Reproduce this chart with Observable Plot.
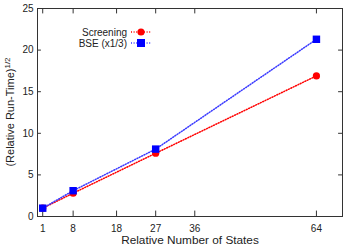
<!DOCTYPE html>
<html><head><meta charset="utf-8">
<script src="https://cdn.jsdelivr.net/npm/d3@7"></script>
<script src="https://cdn.jsdelivr.net/npm/@observablehq/plot@0.6"></script>
<style>body{margin:0;background:#fff;font-family:"Liberation Sans",Arial,sans-serif}</style>
</head><body><div id="chart"></div>
<script>
const states = [1, 8, 27, 64];
const screening = [1.0, 2.8, 7.6, 16.9];
const bse = [1.0, 3.1, 8.1, 21.3];
const xTicks = [1, 8, 18, 27, 36, 64];
const yTicks = [0, 5, 10, 15, 20, 25];
const seriesNames = ["Screening", "BSE (x1/3)"];

const scr = states.map((s, i) => ({x: s, y: screening[i]}));
const bs = states.map((s, i) => ({x: s, y: bse[i]}));
const xd = [-0.2, 70], yd = [0, 25];
const tx = 0.9, ty = 0.65;
const dash = "1,1.6";

const plot = Plot.plot({
  width: 354, height: 248,
  marginLeft: 37, marginRight: 12, marginTop: 8, marginBottom: 32,
  style: {fontFamily: "Liberation Sans, Arial, sans-serif", fontSize: "10px", color: "#222"},
  x: {domain: xd, ticks: xTicks, tickSize: 0, tickPadding: 8, label: null},
  y: {domain: yd, ticks: yTicks, tickSize: 0, tickPadding: 4, label: null},
  marks: [
    Plot.ruleX(xTicks, {y1: yd[0], y2: yd[0] + ty, stroke: "#333"}),
    Plot.ruleX(xTicks, {y1: yd[1], y2: yd[1] - ty, stroke: "#333"}),
    Plot.ruleY(yTicks, {x1: xd[0], x2: xd[0] + tx, stroke: "#333"}),
    Plot.ruleY(yTicks, {x1: xd[1], x2: xd[1] - tx, stroke: "#333"}),
    Plot.line(scr, {x: "x", y: "y", stroke: "#ff0000", strokeWidth: 1.5, strokeDasharray: dash}),
    Plot.line(bs, {x: "x", y: "y", stroke: "#3a3aff", strokeWidth: 1.5, strokeDasharray: dash}),
    Plot.dot(scr, {x: "x", y: "y", r: 3.6, fill: "#ff0000", stroke: "none"}),
    Plot.dot(bs, {x: "x", y: "y", r: 4.2, symbol: "square", fill: "#0000ff", stroke: "none"}),
    Plot.frame({stroke: "#333"})
  ]
});
document.getElementById("chart").append(plot);

const svg = d3.select(plot);
const lab = svg.append("text")
  .attr("transform", "translate(14,112) rotate(-90)")
  .attr("text-anchor", "middle")
  .attr("font-size", "11px").attr("fill", "#222");
lab.append("tspan").text("(Relative Run-Time)");
lab.append("tspan").attr("dy", "-4").attr("font-size", "8px").text("1/2");

svg.append("text").attr("x", 190).attr("y", 244).attr("text-anchor", "middle")
  .attr("font-size", "11.8px").attr("fill", "#222").text("Relative Number of States");

const leg = [
  {name: seriesNames[0], color: "#ff0000", fill: "#ff0000", sq: false, y: 32},
  {name: seriesNames[1], color: "#3a3aff", fill: "#0000ff", sq: true, y: 43}
];
leg.forEach(d => {
  svg.append("text").attr("x", 127).attr("y", d.y).attr("dy", "0.35em")
    .attr("text-anchor", "end").attr("font-size", "10px").attr("fill", "#222").text(d.name);
  svg.append("line").attr("x1", 131).attr("x2", 151).attr("y1", d.y).attr("y2", d.y)
    .attr("stroke", d.color).attr("stroke-width", 1.5).attr("stroke-dasharray", dash);
  if (d.sq) svg.append("rect").attr("x", 137).attr("y", d.y - 4).attr("width", 8).attr("height", 8).attr("fill", d.fill);
  else svg.append("circle").attr("cx", 141).attr("cy", d.y).attr("r", 3.6).attr("fill", d.fill);
});
</script></body></html>
